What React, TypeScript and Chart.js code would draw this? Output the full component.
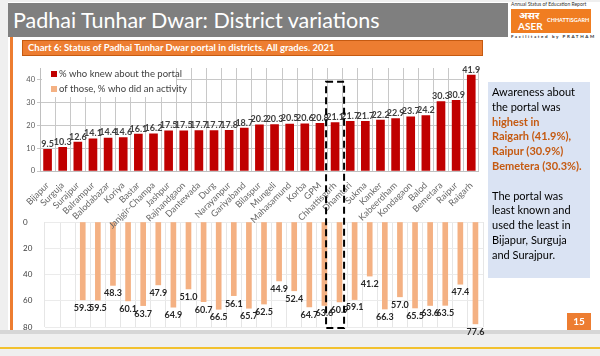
import React, { useEffect, useRef } from "react";
import { Chart, registerables } from "chart.js";

Chart.register(...registerables);

const districts = [
  "Bijapur", "Surguja", "Surajpur", "Balrampur", "Balodabazar", "Koriya", "Bastar",
  "Janjgir-Champa", "Jashpur", "Rajnandgaon", "Dantewada", "Durg", "Narayanpur",
  "Gariyaband", "Bilaspur", "Mungeli", "Mahasamund", "Korba", "GPM", "Chhattisgarh",
  "Dhamtari", "Sukma", "Kanker", "Kabeerdham", "Kondagaon", "Balod", "Bemetara",
  "Raipur", "Raigarh",
];

const knewPortal = [
  9.5, 10.3, 12.6, 14.1, 14.4, 14.6, 16.1, 16.2, 17.5, 17.5, 17.7, 17.7, 17.8, 18.7,
  20.2, 20.3, 20.5, 20.6, 20.8, 21.1, 21.7, 21.7, 22.2, 22.9, 23.7, 24.2, 30.3, 30.9, 41.9,
];

const didActivity: (number | null)[] = [
  null, null, 59.3, 59.5, 48.3, 60.1, 63.7, 47.9, 64.9, 51.0, 60.7, 66.5, 56.1, 65.7,
  62.5, 44.9, 52.4, 64.7, 63.6, 60.9, 59.1, 41.2, 66.3, 57.0, 65.5, 63.6, 63.5, 47.4, 77.6,
];

const seriesNames = ["% who knew about the portal", "of those, % who did an activity"];
const seriesColors = ["#C00000", "#F4B183"];
const highlighted = "Chhattisgarh";

const FONT = "Lato, 'Open Sans', sans-serif";

const topLabels = {
  id: "topLabels",
  afterDatasetsDraw(chart: any) {
    const ctx = chart.ctx;
    const meta = chart.getDatasetMeta(0);
    ctx.save();
    ctx.font = `bold 9px ${FONT}`;
    ctx.fillStyle = "#404040";
    ctx.textAlign = "center";
    ctx.textBaseline = "bottom";
    meta.data.forEach((bar: any, i: number) => {
      const v = chart.data.datasets[0].data[i];
      if (v == null) return;
      ctx.fillText(Number(v).toFixed(1), bar.x, bar.y - 1);
    });
    ctx.restore();
  },
};

const bottomLabels = {
  id: "bottomLabels",
  afterDatasetsDraw(chart: any) {
    const ctx = chart.ctx;
    const meta = chart.getDatasetMeta(0);
    ctx.save();
    ctx.font = `bold 9px ${FONT}`;
    ctx.fillStyle = "#262626";
    ctx.textAlign = "center";
    ctx.textBaseline = "middle";
    meta.data.forEach((bar: any, i: number) => {
      const v = chart.data.datasets[0].data[i];
      if (v == null) return;
      ctx.fillText(Number(v).toFixed(1), bar.x, bar.y + 8);
    });
    ctx.restore();
  },
};

const legendBox = {
  id: "legendBox",
  afterDraw(chart: any) {
    const ctx = chart.ctx;
    const a = chart.chartArea;
    ctx.save();
    ctx.fillStyle = "#FFFFFF";
    ctx.fillRect(a.left + 2, 6, 134, 35);
    ctx.font = `9.5px ${FONT}`;
    ctx.textBaseline = "middle";
    ctx.textAlign = "left";
    seriesNames.forEach((name, i) => {
      const y = 18 + i * 15;
      ctx.fillStyle = seriesColors[i];
      ctx.fillRect(a.left + 11, y - 3, 6, 6);
      ctx.fillStyle = "#404040";
      ctx.fillText(name, a.left + 19, y);
    });
    ctx.restore();
  },
};

const dashedBox = {
  id: "dashedBox",
  afterDraw(chart: any) {
    const ctx = chart.ctx;
    const xs = chart.scales.x;
    const ys = chart.scales.y;
    const i = districts.indexOf(highlighted);
    const xc = xs.getPixelForValue(i);
    const half = 9;
    const top = ys.getPixelForValue(39);
    const bottom = chart.height - 12;
    ctx.save();
    ctx.setLineDash([7, 4]);
    ctx.lineWidth = 2;
    ctx.strokeStyle = "#000";
    ctx.strokeRect(xc - half, top, half * 2, bottom - top);
    ctx.restore();
  },
};

export default function App() {
  const topRef = useRef<HTMLCanvasElement>(null);
  const botRef = useRef<HTMLCanvasElement>(null);

  useEffect(() => {
    const bottom = new Chart(botRef.current!, {
      type: "bar",
      data: {
        labels: districts,
        datasets: [
          {
            label: seriesNames[1],
            data: didActivity,
            backgroundColor: seriesColors[1],
            barThickness: 5,
          },
        ],
      },
      options: {
        animation: false,
        responsive: false,
        maintainAspectRatio: false,
        layout: { padding: { top: 10, bottom: 9, left: 23, right: 5 }, autoPadding: false },
        plugins: { legend: { display: false }, tooltip: { enabled: false } },
        scales: {
          x: {
            offset: true,
            grid: { offset: true, color: "#E6E6E6", drawTicks: false },
            border: { display: false },
            ticks: { display: false },
            afterFit: (s: any) => { s.height = 0; },
          },
          y: {
            reverse: true,
            min: 0,
            max: 80,
            ticks: {
              stepSize: 20,
              crossAlign: "far",
              font: { family: FONT, size: 8 },
              color: "#404040",
            },
            grid: { color: "#EBEBEB", drawTicks: false },
            border: { display: false },
            afterFit: (s: any) => { s.width = 22; },
          },
        },
      },
      plugins: [bottomLabels],
    });

    const top = new Chart(topRef.current!, {
      type: "bar",
      data: {
        labels: districts,
        datasets: [
          {
            label: seriesNames[0],
            data: knewPortal,
            backgroundColor: seriesColors[0],
            barThickness: 8,
          },
        ],
      },
      options: {
        animation: false,
        responsive: false,
        maintainAspectRatio: false,
        layout: { padding: { top: 12, right: 6, left: 0, bottom: 0 }, autoPadding: false },
        plugins: { legend: { display: false }, tooltip: { enabled: false } },
        scales: {
          x: {
            offset: true,
            grid: { offset: true, color: "#C8C8C8", drawTicks: false },
            border: { color: "#BFBFBF" },
            ticks: {
              autoSkip: false,
              maxRotation: 45,
              minRotation: 45,
              padding: 9,
              font: { family: FONT, size: 9 },
              color: "#666666",
            },
            afterFit: (s: any) => { s.height = 169; },
          },
          y: {
            min: 0,
            max: 45,
            ticks: {
              stepSize: 5,
              padding: 2,
              font: { family: FONT, size: 7.5 },
              color: "#595959",
            },
            grid: { color: "#C8C8C8", tickLength: 3 },
            border: { color: "#BFBFBF" },
            afterFit: (s: any) => { s.width = 40; },
          },
        },
      },
      plugins: [topLabels, legendBox, dashedBox],
    });

    return () => {
      top.destroy();
      bottom.destroy();
    };
  }, []);

  const abs = (o: React.CSSProperties): React.CSSProperties => ({ position: "absolute", ...o });

  return (
    <div style={abs({ left: 0, top: 0, width: 600, height: 356, background: "#EFEFEF", overflow: "hidden", fontFamily: FONT })}>
      <div style={abs({ left: 8, top: 2, width: 592, height: 328, background: "#FFFFFF" })} />
      <div style={abs({ left: 0, top: 330, width: 600, height: 4, background: "#D6D6D6" })} />
      <div style={abs({ left: 0, top: 347, width: 600, height: 2, background: "#F2C12E" })} />
      <div style={abs({ left: 8, top: 3, width: 500, height: 34, background: "#7F7F7F" })}>
        <div style={abs({ left: 5, top: 4, color: "#FFFFFF", fontSize: 21.5, whiteSpace: "nowrap", lineHeight: "26px" })}>
          Padhai Tunhar Dwar: District variations
        </div>
      </div>

      {/* logo */}
      <div style={abs({ left: 511, top: 1, fontSize: 5, color: "#333", whiteSpace: "nowrap", lineHeight: "6px" })}>
        Annual Status of Education Report
      </div>
      <div style={abs({ left: 511, top: 9, width: 80, height: 24, background: "#F07D21" })}>
        <div style={abs({ left: 8, top: 0, color: "#fff", fontWeight: 700, fontSize: 10, lineHeight: "12px", fontFamily: "'Noto Sans', 'DejaVu Sans', sans-serif" })}>असर</div>
        <div style={abs({ left: 7, top: 12, color: "#fff", fontWeight: 700, fontSize: 10, lineHeight: "11px" })}>ASER</div>
        <div style={abs({ left: 36, top: 8, color: "#fff", fontWeight: 700, fontSize: 5.5, lineHeight: "7px", whiteSpace: "nowrap" })}>CHHATTISGARH</div>
      </div>
      <div style={abs({ left: 511, top: 34, fontSize: 4.5, fontWeight: 700, color: "#333", whiteSpace: "nowrap", letterSpacing: 1.6, lineHeight: "6px" })}>
        Facilitated by PRATHAM
      </div>

      <div style={abs({ left: 10, top: 37, width: 3, height: 293, background: "#ED7D31" })} />
      <div style={abs({ left: 22, top: 40, width: 459, height: 14, background: "#ED7D31", border: "1px solid #C55A11" })}>
        <div style={abs({ left: 5, top: 1, color: "#FFFFFF", fontSize: 9.5, fontWeight: 700, whiteSpace: "nowrap", lineHeight: "12px" })}>
          Chart 6: Status of Padhai Tunhar Dwar portal in districts. All grades. 2021
        </div>
      </div>

      <canvas ref={botRef} width={488} height={124} style={abs({ left: 0, top: 212, width: 488, height: 124 })} />
      <canvas ref={topRef} width={488} height={284} style={abs({ left: 0, top: 56, width: 488, height: 284 })} />

      <div style={abs({ left: 488, top: 82, width: 102, height: 196, background: "#DAE3F3" })}>
        <div style={abs({ left: 4, top: 3, width: 100, fontSize: 11, lineHeight: "14.8px", color: "#000" })}>
          Awareness about<br />the portal was<br />
          <span style={{ color: "#C55A11", fontWeight: 700 }}>
            highest in<br />Raigarh (41.9%),<br />Raipur (30.9%)<br />Bemetera (30.3%).
          </span>
          <br /><br />
          The portal was<br />least known and<br />used the least in<br />Bijapur, Surguja<br />and Surajpur.
        </div>
      </div>
      <div style={abs({ left: 567, top: 313, width: 24, height: 17, background: "#ED7D31", color: "#fff", fontWeight: 700, fontSize: 10, lineHeight: "17px", textAlign: "center" })}>
        15
      </div>
    </div>
  );
}
